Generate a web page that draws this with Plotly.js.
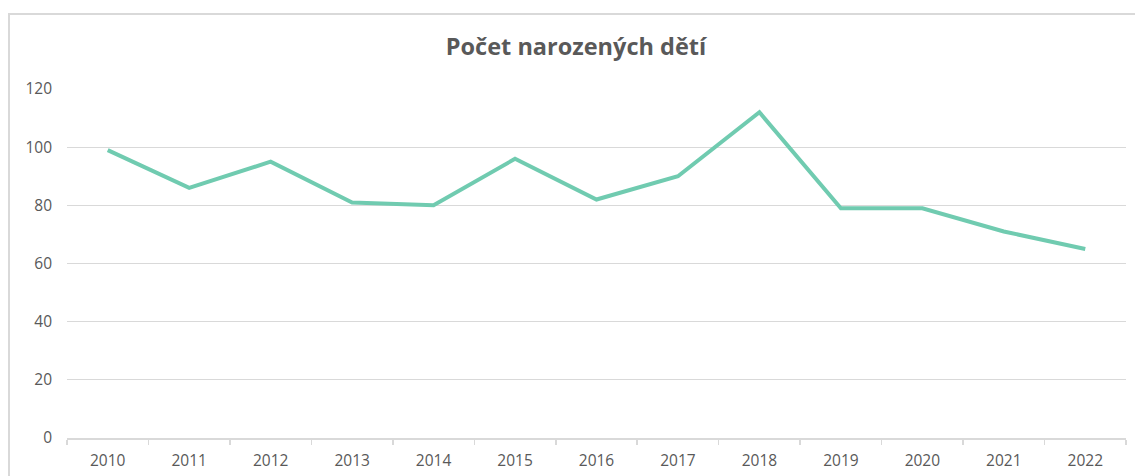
<!DOCTYPE html>
<html>
<head>
<meta charset="utf-8">
<script src="https://cdn.plot.ly/plotly-3.0.1.min.js"></script>
<style>
html,body{margin:0;padding:0;width:1135px;height:476px;overflow:hidden;background:#fff;}
#frame{position:absolute;left:8px;top:13px;width:1200px;height:600px;border:2px solid #d9d9d9;box-sizing:border-box;}
#chart{position:absolute;left:0;top:0;width:1135px;height:476px;}
</style>
</head>
<body>
<div id="frame"></div>
<div id="chart"></div>
<script>
const years = ['2010','2011','2012','2013','2014','2015','2016','2017','2018','2019','2020','2021','2022'];
const births = [99, 86, 95, 81, 80, 96, 82, 90, 112, 79, 79, 71, 65];
const yTicks = [0, 20, 40, 60, 80, 100, 120];
const chartTitle = 'Počet narozených dětí';

const trace = {
  x: years,
  y: births,
  type: 'scatter',
  mode: 'lines',
  line: {color: '#70cbb0', width: 4},
  hoverinfo: 'x+y'
};

const layout = {
  width: 1135,
  height: 476,
  paper_bgcolor: 'rgba(0,0,0,0)',
  plot_bgcolor: 'rgba(0,0,0,0)',
  margin: {l: 67, r: 9, t: 89, b: 38},
  showlegend: false,
  title: {
    text: chartTitle,
    x: 576/1135,
    xanchor: 'center',
    y: 1 - 47/476,
    yanchor: 'middle',
    font: {family: 'Open Sans', size: 23.5, color: '#595959', weight: 'bold'}
  },
  xaxis: {
    type: 'category',
    range: [-0.5, years.length - 0.5],
    showgrid: false,
    showline: true,
    linecolor: '#d9d9d9',
    linewidth: 1.5,
    ticks: 'outside',
    tickson: 'boundaries',
    ticklen: 5,
    tickcolor: '#d9d9d9',
    tickwidth: 1.5,
    ticklabelstandoff: 8,
    tickfont: {family: 'Open Sans', size: 15.5, color: '#595959'},
    zeroline: false,
    fixedrange: true
  },
  yaxis: {
    range: [0, 120],
    tickvals: yTicks,
    showgrid: true,
    gridcolor: '#d9d9d9',
    gridwidth: 1.3,
    showline: false,
    zeroline: false,
    ticks: '',
    ticklabelstandoff: 14,
    tickfont: {family: 'Open Sans', size: 15.5, color: '#595959'},
    fixedrange: true
  }
};

Plotly.newPlot('chart', [trace], layout, {displayModeBar: false, staticPlot: true});
</script>
</body>
</html>
